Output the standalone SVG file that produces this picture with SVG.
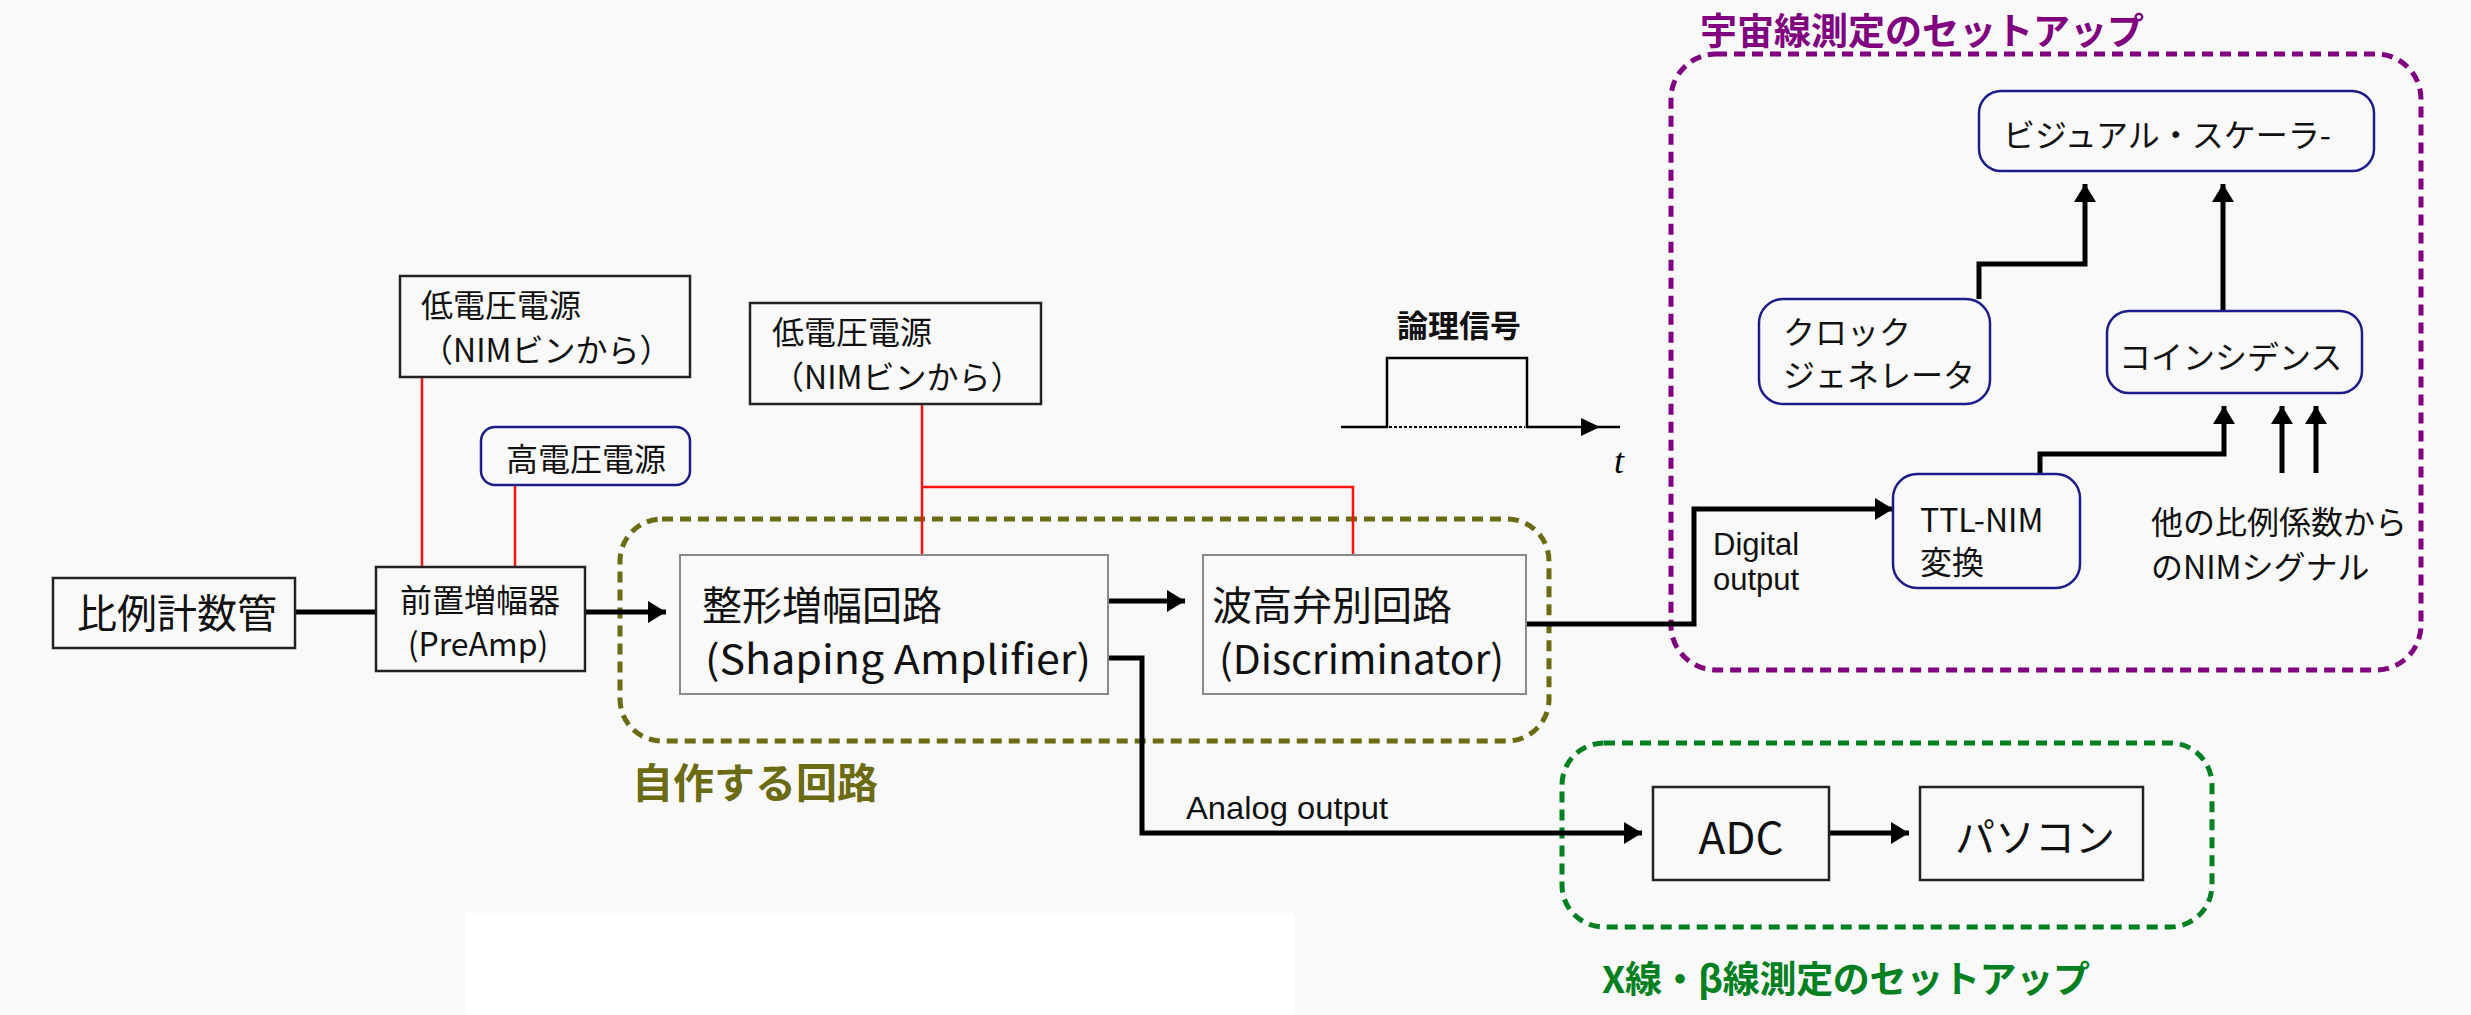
<svg xmlns="http://www.w3.org/2000/svg" width="2471" height="1015" viewBox="0 0 2471 1015">
<style>
.jp{font-family:"Noto Sans CJK JP","Liberation Sans",sans-serif;fill:#111;dominant-baseline:central}
.lat{font-family:"Liberation Sans","Noto Sans CJK JP",sans-serif;fill:#111}
.box{fill:none;stroke:#222;stroke-width:2.5}
.gbox{fill:none;stroke:#8a8a8a;stroke-width:2}
.rbox{fill:none;stroke:#1c1c8a;stroke-width:2.5}
.wire{fill:none;stroke:#000;stroke-width:5;stroke-linejoin:miter}
.red{fill:none;stroke:#ff1010;stroke-width:2.5}
.dash{fill:none;stroke-width:5;stroke-dasharray:11 7}
</style>
<defs>
<marker id="ah" markerUnits="userSpaceOnUse" markerWidth="20" markerHeight="22" refX="18" refY="11" orient="auto">
<path d="M0,0 L18,11 L0,22 Z" fill="#000"/>
</marker>
<marker id="ahs" markerUnits="userSpaceOnUse" markerWidth="20" markerHeight="18" refX="19" refY="9" orient="auto">
<path d="M0,0 L19,9 L0,18 Z" fill="#000"/>
</marker>
</defs>
<rect x="0" y="0" width="2471" height="1015" fill="#f9f9f9"/>
<rect x="466" y="913" width="829" height="102" fill="#ffffff"/>

<g id="groups">
<rect x="620" y="519" width="929" height="222" rx="42" class="dash" stroke="#6b6b14"/>
<rect x="1671" y="54" width="750" height="616" rx="45" class="dash" stroke="#800080"/>
<rect x="1562" y="743" width="650" height="184" rx="42" class="dash" stroke="#008020"/>
<text x="632" y="780" class="jp" style="fill:#6b6b14;font-weight:700" font-size="41">自作する回路</text>
<text x="1700" y="29" class="jp" style="fill:#800080;font-weight:700" font-size="37">宇宙線測定のセットアップ</text>
<text x="1602" y="977" class="jp" style="fill:#008020;font-weight:700" font-size="37" textLength="488" lengthAdjust="spacing">X線・β線測定のセットアップ</text>
</g>

<g id="connectors">
<line x1="295" y1="612" x2="376" y2="612" class="wire"/>
<line x1="585" y1="612" x2="666" y2="612" class="wire" marker-end="url(#ah)"/>
<line x1="1108" y1="601" x2="1185" y2="601" class="wire" marker-end="url(#ah)"/>
<polyline points="1526,624 1694,624 1694,509 1893,509" class="wire" marker-end="url(#ah)"/>
<polyline points="1108,658 1142,658 1142,833 1642,833" class="wire" marker-end="url(#ah)"/>
<line x1="1829" y1="833" x2="1909" y2="833" class="wire" marker-end="url(#ah)"/>
<polyline points="1979,299 1979,264 2085,264 2085,184" class="wire" marker-end="url(#ah)"/>
<line x1="2223" y1="311" x2="2223" y2="184" class="wire" marker-end="url(#ah)"/>
<polyline points="2040,474 2040,454 2224,454 2224,406" class="wire" marker-end="url(#ah)"/>
<line x1="2282" y1="473" x2="2282" y2="406" class="wire" marker-end="url(#ah)"/>
<line x1="2316" y1="473" x2="2316" y2="406" class="wire" marker-end="url(#ah)"/>
<line x1="422" y1="377" x2="422" y2="567" class="red"/>
<line x1="515" y1="485" x2="515" y2="567" class="red"/>
<line x1="922" y1="404" x2="922" y2="555" class="red"/>
<polyline points="922,487 1353,487 1353,555" class="red" stroke-width="3.5"/>
<text x="1186" y="819" class="lat" font-size="32" textLength="202" lengthAdjust="spacingAndGlyphs">Analog output</text>
<text x="1713" y="555" class="lat" font-size="31">Digital</text>
<text x="1713" y="590" class="lat" font-size="31">output</text>
</g>

<g id="pulse">
<text x="1397" y="323" class="jp" style="font-weight:700" font-size="31">論理信号</text>
<polyline points="1341,427 1387,427 1387,358 1527,358 1527,427 1600,427" fill="none" stroke="#000" stroke-width="2.5" marker-end="url(#ahs)"/>
<line x1="1620" y1="427" x2="1600" y2="427" stroke="#000" stroke-width="2.5"/>
<line x1="1389" y1="427" x2="1525" y2="427" stroke="#000" stroke-width="2" stroke-dasharray="3 2"/>
<text x="1614" y="473" font-family="Liberation Serif,serif" font-style="italic" font-size="36" fill="#000">t</text>
</g>

<g id="counter">
<rect x="53" y="578" width="242" height="70" class="box"/>
<text x="77" y="611" class="jp" font-size="40">比例計数管</text>
</g>
<g id="preamp">
<rect x="376" y="567" width="209" height="104" class="box"/>
<text x="480" y="598" class="jp" font-size="32" text-anchor="middle">前置増幅器</text>
<text x="478" y="642" class="jp" font-size="32" text-anchor="middle">(PreAmp)</text>
</g>
<g id="lv1">
<rect x="400" y="276" width="290" height="101" class="box"/>
<text x="421" y="303" class="jp" font-size="32">低電圧電源</text>
<text x="421" y="348" class="jp" font-size="32">（NIMビンから）</text>
</g>
<g id="hv">
<rect x="481" y="427" width="209" height="58" rx="14" class="rbox"/>
<text x="586" y="457" class="jp" font-size="32" text-anchor="middle">高電圧電源</text>
</g>
<g id="lv2">
<rect x="750" y="303" width="291" height="101" class="box"/>
<text x="772" y="330" class="jp" font-size="32">低電圧電源</text>
<text x="772" y="375" class="jp" font-size="32">（NIMビンから）</text>
</g>
<g id="shaping">
<rect x="680" y="555" width="428" height="139" class="gbox"/>
<text x="702" y="603" class="jp" font-size="40">整形増幅回路</text>
<text x="705" y="657" class="jp" font-size="40" textLength="386" lengthAdjust="spacingAndGlyphs">(Shaping Amplifier)</text>
</g>
<g id="discriminator">
<rect x="1203" y="555" width="323" height="139" class="gbox"/>
<text x="1212" y="603" class="jp" font-size="40">波高弁別回路</text>
<text x="1219" y="657" class="jp" font-size="40" textLength="285" lengthAdjust="spacingAndGlyphs">(Discriminator)</text>
</g>
<g id="adc">
<rect x="1653" y="787" width="176" height="93" class="box"/>
<text x="1741" y="835" class="jp" font-size="44" text-anchor="middle">ADC</text>
</g>
<g id="pc">
<rect x="1920" y="787" width="223" height="93" class="box"/>
<text x="2035" y="835" class="jp" font-size="40" text-anchor="middle">パソコン</text>
</g>
<g id="scaler">
<rect x="1979" y="91" width="395" height="80" rx="22" class="rbox"/>
<text x="2003" y="133" class="jp" font-size="32">ビジュアル・スケーラ-</text>
</g>
<g id="clock">
<rect x="1759" y="299" width="231" height="105" rx="24" class="rbox"/>
<text x="1783" y="330" class="jp" font-size="32">クロック</text>
<text x="1783" y="373" class="jp" font-size="32">ジェネレータ</text>
</g>
<g id="coincidence">
<rect x="2107" y="311" width="255" height="82" rx="22" class="rbox"/>
<text x="2119" y="355" class="jp" font-size="32">コインシデンス</text>
</g>
<g id="ttlnim">
<rect x="1893" y="474" width="187" height="114" rx="24" class="rbox"/>
<text x="1920" y="518" class="jp" font-size="32">TTL-NIM</text>
<text x="1920" y="560" class="jp" font-size="32">変換</text>
</g>
<g id="others">
<text x="2151" y="520" class="jp" font-size="32">他の比例係数から</text>
<text x="2151" y="565" class="jp" font-size="32">のNIMシグナル</text>
</g>
</svg>
